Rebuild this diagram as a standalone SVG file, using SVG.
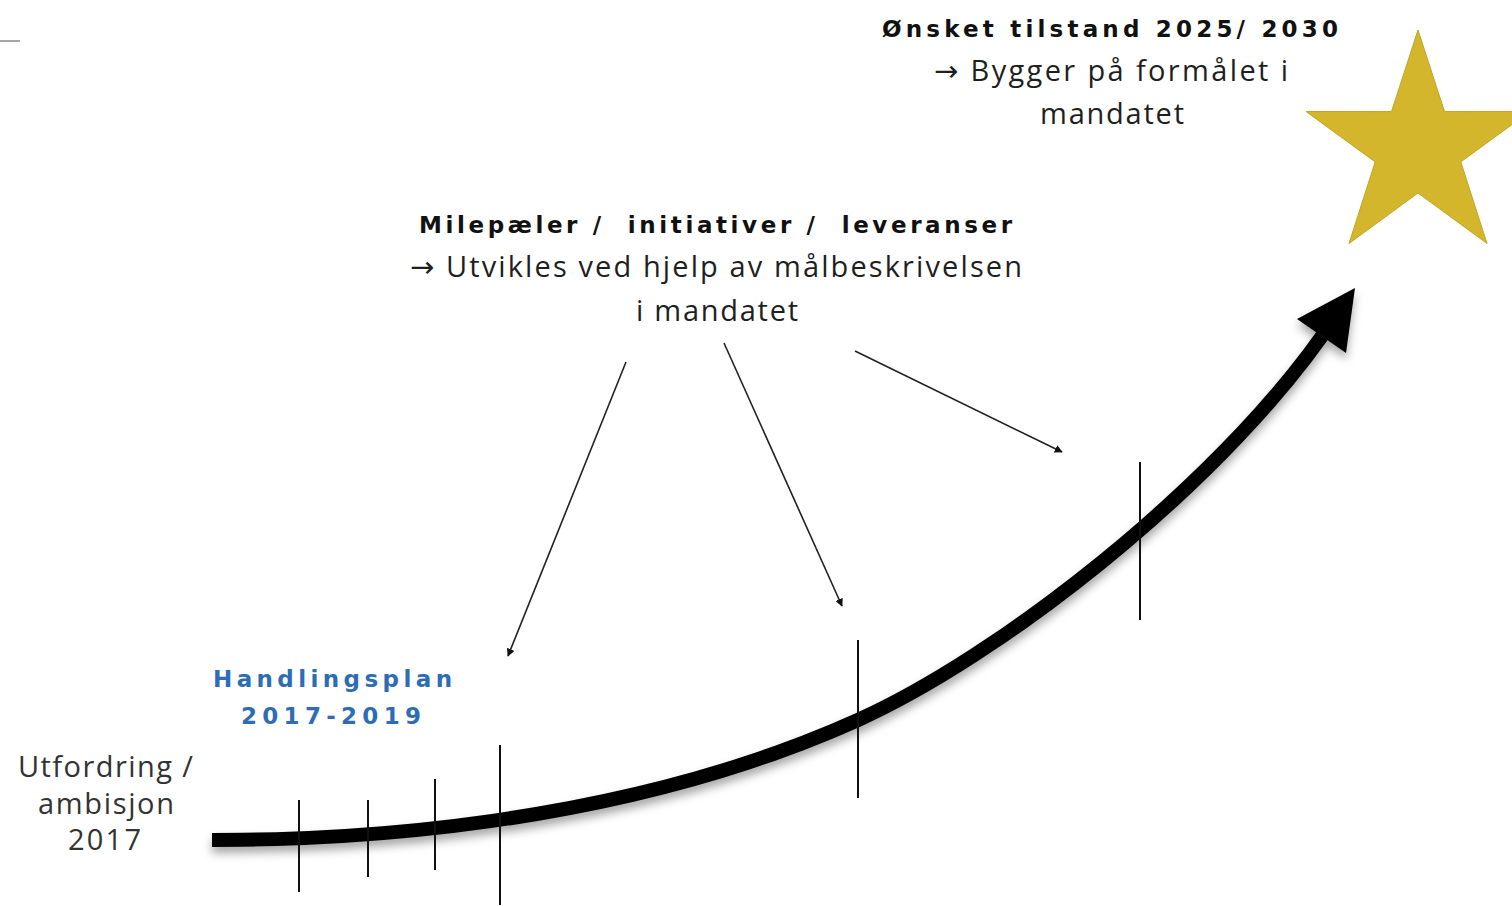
<svg xmlns="http://www.w3.org/2000/svg" width="1512" height="906" viewBox="0 0 1512 906">
<style>
.reg{font-family:"Open Sans","Noto Sans","DejaVu Sans",sans-serif;font-size:29px;fill:#1f1f1f}
.bold{font-family:"DejaVu Sans","Verdana",sans-serif;font-weight:bold;font-size:23px;fill:#111}
.blue{fill:#2d6db6}
.side{fill:#333}
.tick{stroke:#111;stroke-width:2;fill:none}
.thin{stroke:#222;stroke-width:1.6;fill:none;marker-end:url(#ah)}
</style>
<defs>
<marker id="ah" viewBox="0 0 10 10" refX="9" refY="5" markerWidth="8" markerHeight="8" markerUnits="userSpaceOnUse" orient="auto">
<path d="M0,0 L10,5 L0,10 z" fill="#111"/>
</marker>
<filter id="sh" x="-10%" y="-10%" width="120%" height="130%">
<feDropShadow dx="0" dy="6" stdDeviation="5" flood-color="#000" flood-opacity="0.35"/>
</filter>
</defs>
<rect width="1512" height="906" fill="#ffffff"/>
<line x1="0" y1="41" x2="20" y2="41" stroke="#888" stroke-width="1.5"/>

<g id="star">
<polygon points="1418,30 1444.5,111.6 1530,111.5 1460.8,161.9 1487,243.5 1418,193 1349,243.5 1375.2,161.9 1306,111.5 1391.5,111.6" fill="#d3b62c" stroke="#c2a523" stroke-width="1"/>
</g>

<g id="main-arrow" filter="url(#sh)">
<path d="M212,840 C420,840 658,810 858,720 C998,657 1212,491 1322,336" fill="none" stroke="#000" stroke-width="14"/>
<polygon points="1355,288 1297,319 1346,353" fill="#000"/>
</g>

<g id="ticks">
<line class="tick" x1="299" y1="800" x2="299" y2="892"/>
<line class="tick" x1="368" y1="800" x2="368" y2="877"/>
<line class="tick" x1="435" y1="779" x2="435" y2="870"/>
<line class="tick" x1="500" y1="745" x2="500" y2="905"/>
<line class="tick" x1="858" y1="640" x2="858" y2="798"/>
<line class="tick" x1="1140" y1="462" x2="1140" y2="620"/>
</g>

<g id="connectors">
<line class="thin" x1="626" y1="362" x2="508" y2="656"/>
<line class="thin" x1="724" y1="343" x2="842" y2="606"/>
<line class="thin" x1="855" y1="351" x2="1062" y2="452"/>
</g>

<g id="goal">
<text class="bold" x="882" y="37" textLength="456" lengthAdjust="spacing">Ønsket tilstand 2025/ 2030</text>
<text class="reg" x="934" y="81" textLength="354" lengthAdjust="spacing">→ Bygger på formålet i</text>
<text class="reg" x="1040" y="124" textLength="144" lengthAdjust="spacing">mandatet</text>
</g>

<g id="milestones">
<text class="bold" x="419" y="233" textLength="593" lengthAdjust="spacing" xml:space="preserve">Milepæler /  initiativer /  leveranser</text>
<text class="reg" x="410" y="277" textLength="612" lengthAdjust="spacing">→ Utvikles ved hjelp av målbeskrivelsen</text>
<text class="reg" x="636" y="321" textLength="162" lengthAdjust="spacing">i mandatet</text>
</g>

<g id="plan">
<text class="bold blue" x="213" y="687" textLength="239" lengthAdjust="spacing">Handlingsplan</text>
<text class="bold blue" x="241" y="724" textLength="180" lengthAdjust="spacing">2017-2019</text>
</g>

<g id="start">
<text class="reg side" x="18" y="777" textLength="175" lengthAdjust="spacing">Utfordring /</text>
<text class="reg side" x="38" y="814" textLength="136" lengthAdjust="spacing">ambisjon</text>
<text class="reg side" x="68" y="850" textLength="73" lengthAdjust="spacing">2017</text>
</g>
</svg>
